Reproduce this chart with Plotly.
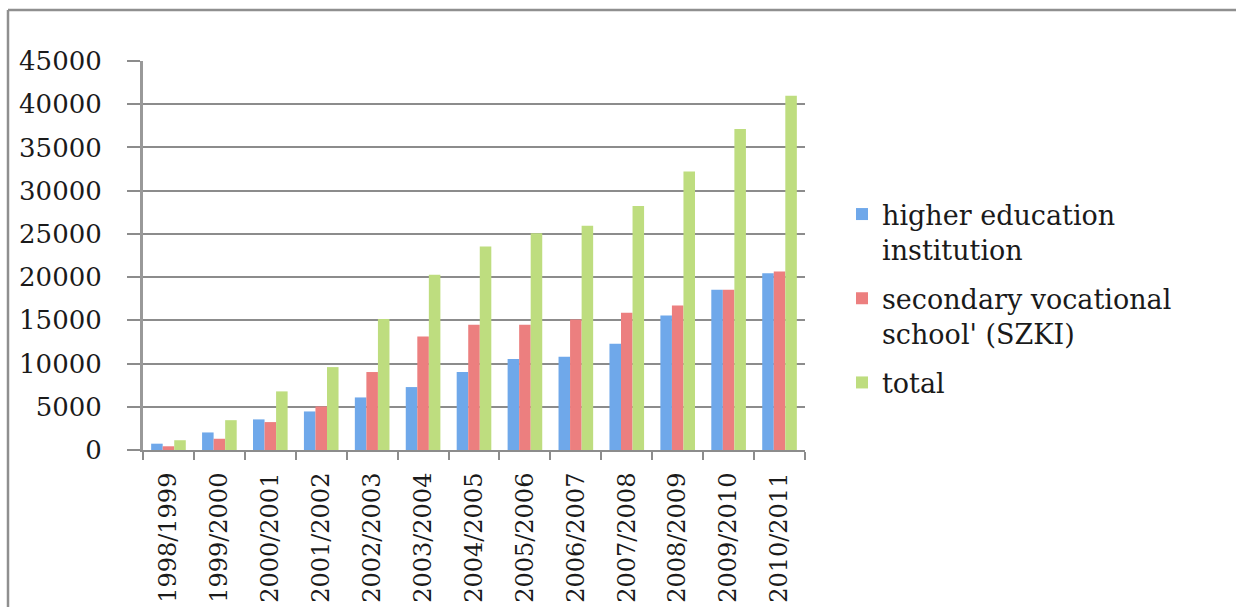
import plotly.graph_objects as go

# Academic years on the category axis
years = ["1998/1999", "1999/2000", "2000/2001", "2001/2002", "2002/2003",
         "2003/2004", "2004/2005", "2005/2006", "2006/2007", "2007/2008",
         "2008/2009", "2009/2010", "2010/2011"]

# Number of students per year and institution type
higher_education = [730, 2030, 3540, 4460, 6080, 7280, 9010, 10520, 10790,
                    12290, 15560, 18530, 20460]
vocational_szki = [430, 1300, 3230, 5040, 9020, 13130, 14480, 14480, 15100,
                   15870, 16720, 18530, 20650]
total = [1130, 3450, 6780, 9590, 15140, 20270, 23540, 25080, 25930,
         28240, 32210, 37140, 40990]

series_names = ["higher education<br>institution",
                "secondary vocational<br>school' (SZKI)",
                "total"]
series_colors = ["#6fa8ea", "#ec7f7f", "#bedd7f"]

y_ticks = [0, 5000, 10000, 15000, 20000, 25000, 30000, 35000, 40000, 45000]

W, H = 1236, 607
L, R, T, B = 143, 805, 61, 450
pw, ph = R - L, B - T

fig = go.Figure()
for i, (name, vals, col) in enumerate(zip(series_names,
                                          [higher_education, vocational_szki, total],
                                          series_colors)):
    fig.add_trace(go.Bar(x=years, y=vals, name=name, legendgroup=f"g{i}",
                         marker=dict(color=col, line=dict(width=0))))

grid_col = "#8c8c8c"
fig.update_layout(
    width=W, height=H,
    margin=dict(l=L, r=W - R, t=T, b=H - B, pad=0, autoexpand=False),
    paper_bgcolor="white", plot_bgcolor="white",
    barmode="group", bargap=0.32, bargroupgap=0,
    showlegend=True,
    legend=dict(
        x=(842 - L) / pw, xanchor="left",
        y=(B - 190) / ph, yanchor="top",
        font=dict(family="DejaVu Serif", size=27, color="#1a1a1a"),
        valign="top", tracegroupgap=11, bgcolor="rgba(0,0,0,0)",
    ),
    xaxis=dict(
        type="category", tickangle=-90, tickson="boundaries",
        ticks="outside", ticklen=8, tickwidth=2, tickcolor=grid_col,
        showline=True, linecolor=grid_col, linewidth=2,
        showgrid=False, ticklabelstandoff=11, automargin=False,
        tickfont=dict(family="DejaVu Serif", size=24, color="#1a1a1a"),
    ),
    yaxis=dict(
        range=[0, 45000], tickvals=y_ticks,
        ticktext=[str(v) for v in y_ticks],
        ticks="outside", ticklen=13, tickwidth=2, tickcolor=grid_col,
        showgrid=True, gridcolor=grid_col, gridwidth=2,
        showline=True, linecolor="#999999", linewidth=3,
        zeroline=False, ticklabelstandoff=20, automargin=False,
        tickfont=dict(family="DejaVu Serif", size=26, color="#1a1a1a"),
    ),
)

# Chart-area frame (left and top edges)
x0 = (8 - L) / pw
x1 = (W + 5 - L) / pw
y_top = (B - 10) / ph
y_bot = (B - H - 10) / ph
fig.add_shape(type="line", xref="paper", yref="paper",
              x0=x0, x1=x0, y0=y_bot, y1=y_top,
              line=dict(color="#8f8f8f", width=2.5))
fig.add_shape(type="line", xref="paper", yref="paper",
              x0=x0, x1=x1, y0=y_top, y1=y_top,
              line=dict(color="#8f8f8f", width=2.5))

fig.write_html("out.html")
